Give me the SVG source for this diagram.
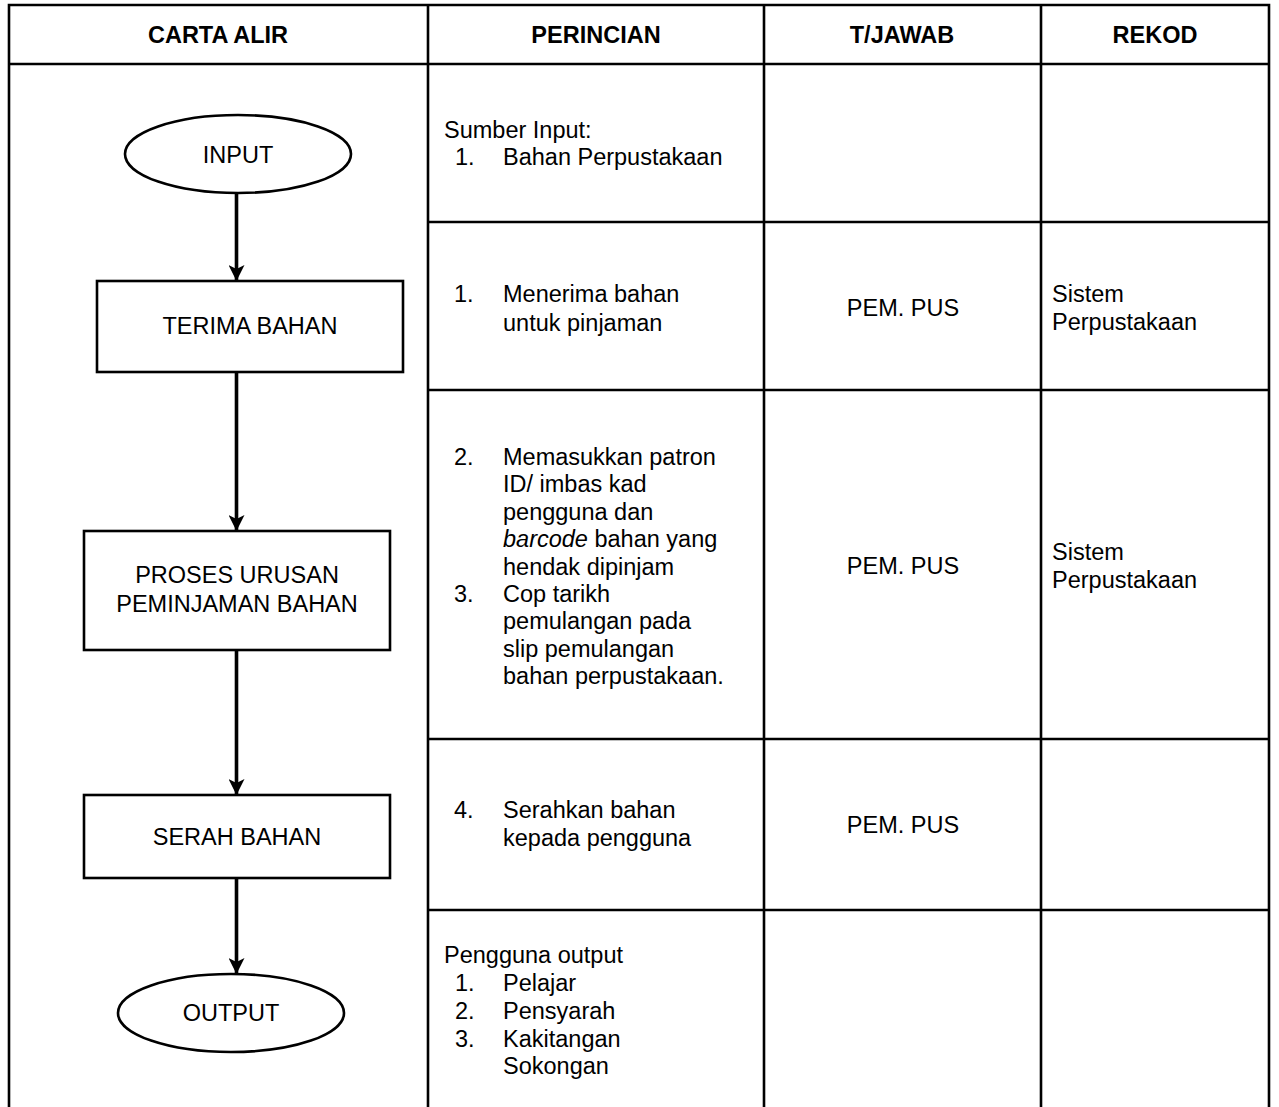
<svg xmlns="http://www.w3.org/2000/svg" width="1279" height="1107" viewBox="0 0 1279 1107">
<style>
text{font-family:"Liberation Sans",Arial,sans-serif;font-size:23.5px;fill:#000}
.h{font-weight:bold;text-anchor:middle}
.c{text-anchor:middle}
.grid{stroke:#000;stroke-width:2.6;fill:none}
.shape{stroke:#000;stroke-width:2.6;fill:#fff}
.conn{stroke:#000;stroke-width:3.6;fill:none;marker-end:url(#arr)}
</style>
<defs>
<marker id="arr" viewBox="0 0 16 16" markerWidth="16" markerHeight="16" refX="16" refY="8" orient="auto" markerUnits="userSpaceOnUse">
<path d="M0,0 L16,8 L0,16 L4,8 z" fill="#000"/>
</marker>
</defs>
<rect width="1279" height="1107" fill="#fff"/>
<g id="table" class="grid">
<path d="M9,1107 V5 H1269 V1107 M428,5 V1107 M764,5 V1107 M1041,5 V1107 M9,64 H1269 M428,222 H1269 M428,390 H1269 M428,739 H1269 M428,910 H1269"/>
</g>
<g id="headers">
<text class="h" x="218" y="43">CARTA ALIR</text>
<text class="h" x="596" y="43">PERINCIAN</text>
<text class="h" x="902" y="43">T/JAWAB</text>
<text class="h" x="1155" y="43">REKOD</text>
</g>
<g id="connectors">
<line class="conn" x1="236.5" y1="193" x2="236.5" y2="281"/>
<line class="conn" x1="236.5" y1="372" x2="236.5" y2="531"/>
<line class="conn" x1="236.5" y1="650" x2="236.5" y2="795"/>
<line class="conn" x1="236.5" y1="878" x2="236.5" y2="974"/>
</g>
<g id="input">
<ellipse class="shape" cx="238" cy="154" rx="113" ry="39"/>
<text class="c" x="238" y="163">INPUT</text>
</g>
<g id="terima">
<rect class="shape" x="97" y="281" width="306" height="91"/>
<text class="c" x="250" y="334">TERIMA BAHAN</text>
</g>
<g id="proses">
<rect class="shape" x="84" y="531" width="306" height="119"/>
<text class="c" x="237" y="583">PROSES URUSAN</text>
<text class="c" x="237" y="612">PEMINJAMAN BAHAN</text>
</g>
<g id="serah">
<rect class="shape" x="84" y="795" width="306" height="83"/>
<text class="c" x="237" y="845">SERAH BAHAN</text>
</g>
<g id="output">
<ellipse class="shape" cx="231" cy="1013" rx="113" ry="39"/>
<text class="c" x="231" y="1021">OUTPUT</text>
</g>
<g id="row1">
<text x="444" y="138">Sumber Input:</text>
<text x="455" y="165">1.</text>
<text x="503" y="165">Bahan Perpustakaan</text>
</g>
<g id="row2">
<text x="454" y="302">1.</text>
<text x="503" y="302">Menerima bahan</text>
<text x="503" y="331">untuk pinjaman</text>
<text class="c" x="903" y="316">PEM. PUS</text>
<text x="1052" y="302">Sistem</text>
<text x="1052" y="330">Perpustakaan</text>
</g>
<g id="row3">
<text x="454" y="465">2.</text>
<text x="503" y="465">Memasukkan patron</text>
<text x="503" y="492.4">ID/ imbas kad</text>
<text x="503" y="519.8">pengguna dan</text>
<text x="503" y="547.2"><tspan font-style="italic">barcode</tspan> bahan yang</text>
<text x="503" y="574.6">hendak dipinjam</text>
<text x="454" y="602">3.</text>
<text x="503" y="602">Cop tarikh</text>
<text x="503" y="629.4">pemulangan pada</text>
<text x="503" y="656.8">slip pemulangan</text>
<text x="503" y="684.2">bahan perpustakaan.</text>
<text class="c" x="903" y="574">PEM. PUS</text>
<text x="1052" y="560">Sistem</text>
<text x="1052" y="588">Perpustakaan</text>
</g>
<g id="row4">
<text x="454" y="818">4.</text>
<text x="503" y="818">Serahkan bahan</text>
<text x="503" y="846">kepada pengguna</text>
<text class="c" x="903" y="833">PEM. PUS</text>
</g>
<g id="row5">
<text x="444" y="963">Pengguna output</text>
<text x="455" y="991">1.</text>
<text x="503" y="991">Pelajar</text>
<text x="455" y="1019">2.</text>
<text x="503" y="1019">Pensyarah</text>
<text x="455" y="1047">3.</text>
<text x="503" y="1047">Kakitangan</text>
<text x="503" y="1074">Sokongan</text>
</g>
</svg>
